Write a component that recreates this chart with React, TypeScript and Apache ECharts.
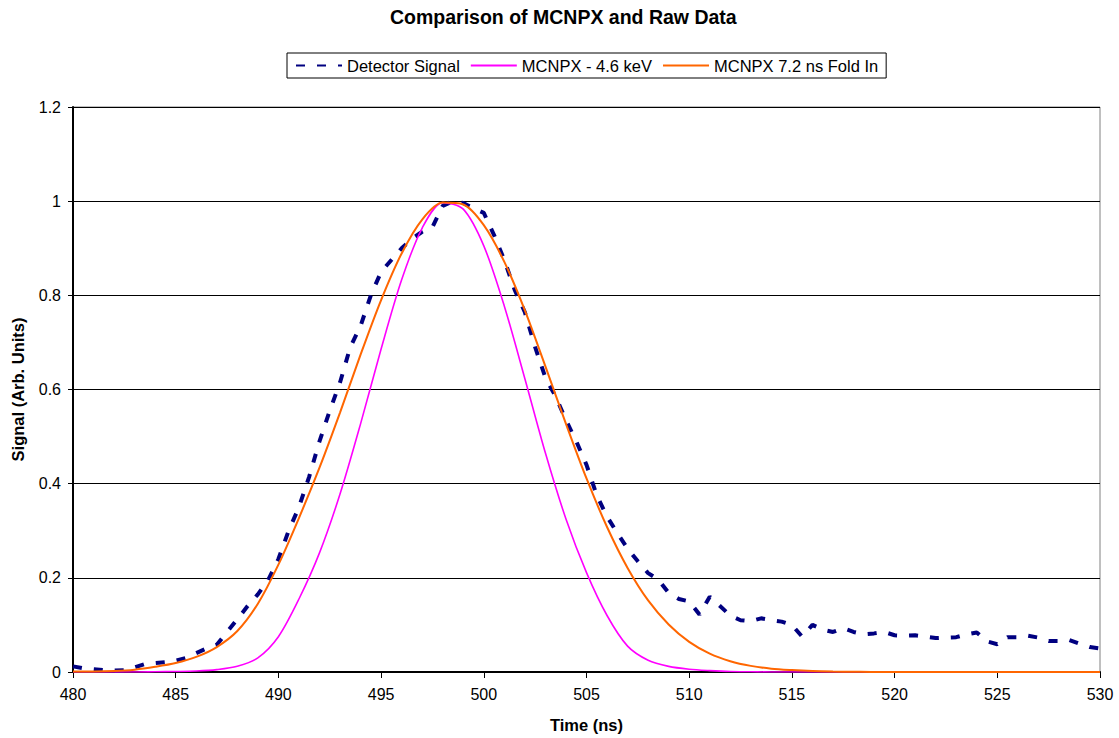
import React, { useEffect, useRef } from "react";
import * as echarts from "echarts";

// Detector signal, sampled every 0.5 ns from 480 to 530 ns
const detectorTimes: number[] = [
  480, 480.5, 481, 481.5, 482, 482.5, 483, 483.5, 484, 484.5,
  485, 485.5, 486, 486.5, 487, 487.5, 488, 488.5, 489, 489.5,
  490, 490.5, 491, 491.5, 492, 492.5, 493, 493.5, 494, 494.5,
  495, 495.5, 496, 496.5, 497, 497.5, 498, 498.5, 499, 499.5,
  500, 500.5, 501, 501.5, 502, 502.5, 503, 503.5, 504, 504.5,
  505, 505.5, 506, 506.5, 507, 507.5, 508, 508.5, 509, 509.5,
  510, 510.5, 511, 511.5, 512, 512.5, 513, 513.5, 514, 514.5,
  515, 515.5, 516, 516.5, 517, 517.5, 518, 518.5, 519, 519.5,
  520, 520.5, 521, 521.5, 522, 522.5, 523, 523.5, 524, 524.5,
  525, 525.5, 526, 526.5, 527, 527.5, 528, 528.5, 529, 529.5, 530,
];
const detectorSignal: number[] = [
  0.012, 0.008, 0.006, 0.004, 0.003, 0.004, 0.01, 0.017, 0.019, 0.021,
  0.024, 0.03, 0.04, 0.05, 0.058, 0.085, 0.112, 0.14, 0.165, 0.195,
  0.24, 0.3, 0.35, 0.415, 0.49, 0.555, 0.615, 0.69, 0.735, 0.8,
  0.85, 0.875, 0.9, 0.92, 0.935, 0.945, 0.99, 1.0, 0.996, 0.985,
  0.975, 0.928, 0.875, 0.812, 0.764, 0.69, 0.625, 0.585, 0.535, 0.49,
  0.44, 0.375, 0.33, 0.295, 0.262, 0.235, 0.21, 0.196, 0.168, 0.155,
  0.15, 0.122, 0.16, 0.14, 0.12, 0.11, 0.108, 0.114, 0.11, 0.107,
  0.1, 0.075, 0.1, 0.09, 0.085, 0.093, 0.085, 0.08, 0.082, 0.085,
  0.078, 0.077, 0.078, 0.075, 0.072, 0.073, 0.074, 0.08, 0.084, 0.065,
  0.059, 0.074, 0.074, 0.077, 0.073, 0.066, 0.066, 0.068, 0.06, 0.053, 0.05,
];

// MCNPX curves, sampled every 1 ns from 480 to 530 ns
const mcnpxTimes: number[] = [
  480, 481, 482, 483, 484, 485, 486, 487, 488, 489,
  490, 491, 492, 493, 494, 495, 496, 497, 498, 499,
  500, 501, 502, 503, 504, 505, 506, 507, 508, 509,
  510, 511, 512, 513, 514, 515, 516, 517, 518, 519,
  520, 521, 522, 523, 524, 525, 526, 527, 528, 529, 530,
];
const mcnpx46keV: number[] = [
  0, 0, 0, 0, 0.0005, 0.001, 0.002, 0.005, 0.012, 0.03,
  0.075, 0.155, 0.253, 0.378, 0.527, 0.686, 0.833, 0.943, 0.997, 0.983,
  0.905, 0.777, 0.623, 0.465, 0.325, 0.211, 0.12, 0.055, 0.025, 0.012,
  0.006, 0.003, 0.001, 0.0005, 0, 0, 0, 0, 0, 0,
  0, 0, 0, 0, 0, 0, 0, 0, 0, 0, 0,
];
const mcnpxFoldIn: number[] = [
  0.001, 0.001, 0.002, 0.005, 0.011, 0.019, 0.032, 0.053, 0.087, 0.145,
  0.228, 0.327, 0.434, 0.551, 0.674, 0.79, 0.889, 0.961, 0.997, 0.993,
  0.949, 0.871, 0.768, 0.649, 0.527, 0.411, 0.308, 0.221, 0.152, 0.101,
  0.064, 0.039, 0.023, 0.013, 0.007, 0.004, 0.002, 0.001, 0.0005, 0,
  0, 0, 0, 0, 0, 0, 0, 0, 0, 0, 0,
];

const seriesNames = ["Detector Signal", "MCNPX - 4.6 keV", "MCNPX 7.2 ns Fold In"];
const titleText = "Comparison of MCNPX and Raw Data";
const xAxisTitle = "Time (ns)";
const yAxisTitle = "Signal (Arb. Units)";

const FONT = "'Liberation Sans', Arial, sans-serif";

export default function App() {
  const ref = useRef<HTMLDivElement>(null);

  useEffect(() => {
    if (!ref.current) return;
    const chart = echarts.init(ref.current, null, { renderer: "svg" });
    const pair = (xs: number[], ys: number[]) => xs.map((x, i) => [x, ys[i]]);

    chart.setOption({
      animation: false,
      backgroundColor: "#ffffff",
      textStyle: { fontFamily: FONT },
      title: {
        text: titleText,
        left: 390,
        top: 7,
        padding: 0,
        textStyle: { fontFamily: FONT, fontSize: 19.5, fontWeight: "bold", color: "#000" },
      },
      legend: {
        left: 287,
        top: 53,
        padding: [4, 8],
        borderColor: "#000",
        borderWidth: 1,
        itemWidth: 46,
        itemHeight: 12,
        itemGap: 10,
        itemStyle: { opacity: 0 },
        textStyle: { fontFamily: FONT, fontSize: 16.5, color: "#000" },
        data: seriesNames,
      },
      grid: {
        left: 73,
        right: 19,
        top: 107,
        bottom: 64,
        show: true,
        borderColor: "#808080",
        borderWidth: 1,
        containLabel: false,
      },
      xAxis: {
        type: "value",
        min: 480,
        max: 530,
        interval: 5,
        name: xAxisTitle,
        nameLocation: "middle",
        nameGap: 44,
        nameTextStyle: { fontFamily: FONT, fontSize: 16.5, fontWeight: "bold", color: "#000" },
        axisLine: { show: true, lineStyle: { color: "#000", width: 2 } },
        axisTick: { show: true, inside: false, length: 6, lineStyle: { color: "#000" } },
        axisLabel: { fontFamily: FONT, fontSize: 16, color: "#000", margin: 14 },
        splitLine: { show: false },
      },
      yAxis: {
        type: "value",
        min: 0,
        max: 1.2,
        interval: 0.2,
        name: yAxisTitle,
        nameLocation: "middle",
        nameGap: 47,
        nameRotate: 90,
        nameTextStyle: { fontFamily: FONT, fontSize: 16.5, fontWeight: "bold", color: "#000" },
        axisLine: { show: true, lineStyle: { color: "#000", width: 2 } },
        axisTick: { show: true, inside: false, length: 5, lineStyle: { color: "#000" } },
        axisLabel: { fontFamily: FONT, fontSize: 16, color: "#000", margin: 12 },
        splitLine: { show: true, lineStyle: { color: "#000", width: 1 } },
      },
      series: [
        {
          name: seriesNames[0],
          type: "line",
          symbol: "none",
          data: pair(detectorTimes, detectorSignal),
          lineStyle: { color: "#000080", width: 4, type: [9, 12] },
          itemStyle: { color: "#000080" },
          z: 3,
        },
        {
          name: seriesNames[1],
          type: "line",
          symbol: "none",
          smooth: 0.3,
          data: pair(mcnpxTimes, mcnpx46keV),
          lineStyle: { color: "#ff00ff", width: 1.6 },
          itemStyle: { color: "#ff00ff" },
          z: 4,
        },
        {
          name: seriesNames[2],
          type: "line",
          symbol: "none",
          smooth: 0.3,
          data: pair(mcnpxTimes, mcnpxFoldIn),
          lineStyle: { color: "#ff6600", width: 2 },
          itemStyle: { color: "#ff6600" },
          z: 5,
        },
      ],
    });

    return () => chart.dispose();
  }, []);

  return (
    <div
      ref={ref}
      style={{ position: "fixed", left: 0, top: 0, width: 1119, height: 738, background: "#fff" }}
    />
  );
}
